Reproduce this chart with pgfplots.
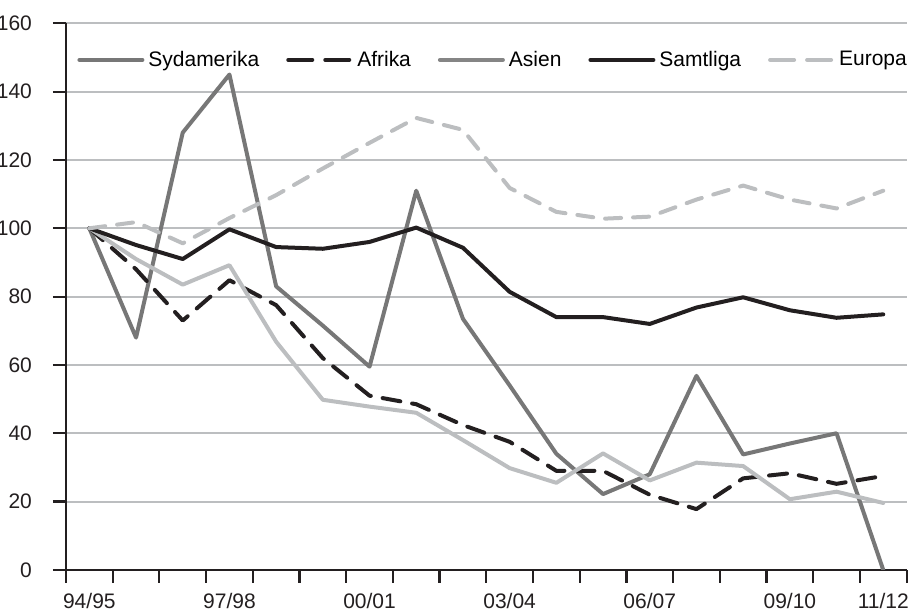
\documentclass[border=0pt]{standalone}
\usepackage{fontspec}
\setmainfont{Liberation Sans}
\usepackage{pgfplots}
\pgfplotsset{compat=1.18}

\definecolor{ink}{HTML}{231F20}
\definecolor{midgray}{HTML}{777777}
\definecolor{legasien}{HTML}{858585}
\definecolor{lightgray}{HTML}{BCBEC0}

\begin{document}
\begin{tikzpicture}
  \useasboundingbox (-33pt,-21.5pt) rectangle (424.55pt,285pt);
  \begin{axis}[
      at={(0,0)}, anchor=south west,
      scale only axis,
      width=420.35pt,
      height=273.35pt,
      xmin=-0.5, xmax=17.5,
      ymin=0, ymax=160,
      axis x line*=bottom,
      axis y line*=left,
      axis line style={ink, line width=1.1pt},
      every tick label/.append style={font=\fontsize{10.5}{12}\selectfont, text=ink},
      /pgf/number format/assume math mode=true,
      tick align=outside,
      major tick length=6.5pt,
      tick style={ink, line width=1.1pt},
      ytick={0,20,...,160},
      ymajorgrids,
      major grid style={lightgray, line width=1pt},
      xtick={-0.5,0.5,...,17.5},
      xticklabels={},
      extra x ticks={0,3,6,9,12,15,17},
      extra x tick labels={94/95,97/98,00/01,03/04,06/07,09/10,11/12},
      extra x tick style={major tick length=0pt, tick label style={yshift=-8pt}},
      yticklabel style={xshift=-7pt},
      legend columns=5,
      legend cell align=left,
      legend style={draw=none, fill=none, inner sep=0pt,
        at={(0.0131,0.933)}, anchor=west,
        font=\fontsize{10.5}{12}\selectfont,
        /tikz/every even column/.append style={column sep=11.5pt}},
      legend image code/.code={\draw[#1] (0pt,0pt) -- (31.5pt,0pt);},
      every axis plot/.append style={line width=2pt, line join=round, line cap=round},
    ]
    \addplot[midgray] coordinates {
      (0,100) (1,68) (2,128) (3,145) (4,83) (5,71.5) (6,59.5) (7,111) (8,73.5)
      (9,54) (10,34) (11,22.2) (12,28) (13,56.8) (14,33.8) (15,37) (16,40) (17,0)};
    \addlegendentry{Sydamerika}
    \addplot[ink, dash pattern=on 9pt off 6pt,
      legend image post style={dash pattern=on 12pt off 6.5pt}] coordinates {
      (0,100) (1,88) (2,73) (3,84.8) (4,77.5) (5,62) (6,51) (7,48.5) (8,42.4)
      (9,37.5) (10,29) (11,29) (12,22) (13,17.8) (14,26.8) (15,28.3) (16,25.2) (17,27.5)};
    \addlegendentry{Afrika}
    \addplot[lightgray, legend image post style={legasien}] coordinates {
      (0,100) (1,91) (2,83.5) (3,89.2) (4,66.8) (5,49.8) (6,47.8) (7,46) (8,38)
      (9,29.8) (10,25.5) (11,34.1) (12,26.2) (13,31.4) (14,30.4) (15,20.7) (16,22.9) (17,19.6)};
    \addlegendentry{Asien}
    \addplot[ink] coordinates {
      (0,100) (1,95.1) (2,91) (3,99.7) (4,94.5) (5,94) (6,96) (7,100.2) (8,94.3)
      (9,81.4) (10,74) (11,74) (12,72) (13,76.8) (14,79.8) (15,76) (16,73.8) (17,74.8)};
    \addlegendentry{Samtliga}
    \addplot[lightgray, dash pattern=on 8pt off 6pt,
      legend image post style={dash pattern=on 12pt off 6.5pt}] coordinates {
      (0,100) (1,101.8) (2,95.6) (3,103) (4,109.7) (5,117.5) (6,125) (7,132.3) (8,128.8)
      (9,111.8) (10,104.8) (11,102.8) (12,103.4) (13,108.4) (14,112.5) (15,108.4) (16,105.8) (17,111)};
    \addlegendentry{Europa}
  \end{axis}
\end{tikzpicture}
\end{document}
